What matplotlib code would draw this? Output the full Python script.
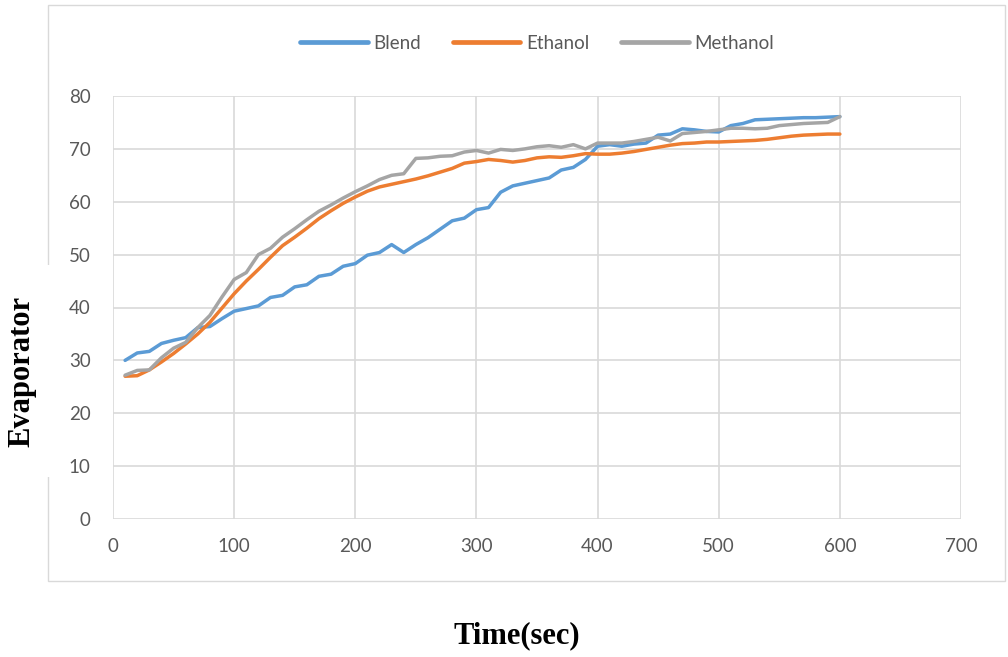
import matplotlib.pyplot as plt
from matplotlib.patches import Rectangle
import numpy as np

# time axis (sec)
time_sec = list(range(10, 601, 10))

blend = [30.0, 31.4, 31.7, 33.2, 33.8, 34.3, 36.2, 36.4, 37.9, 39.3,
         39.8, 40.3, 41.9, 42.3, 43.9, 44.3, 45.9, 46.3, 47.8, 48.3,
         49.9, 50.4, 51.9, 50.4, 51.9, 53.2, 54.8, 56.4, 56.9, 58.5,
         58.9, 61.8, 63.0, 63.5, 64.0, 64.5, 66.0, 66.5, 68.0, 70.5,
         70.8, 70.5, 70.9, 71.1, 72.6, 72.8, 73.8, 73.6, 73.3, 73.2,
         74.4, 74.8, 75.5, 75.6, 75.7, 75.8, 75.9, 75.9, 76.0, 76.1]

ethanol = [27.0, 27.1, 28.2, 29.7, 31.3, 33.1, 35.0, 37.2, 39.9, 42.6,
           45.0, 47.2, 49.5, 51.7, 53.3, 55.0, 56.8, 58.3, 59.7, 60.9,
           62.0, 62.8, 63.3, 63.8, 64.3, 64.9, 65.6, 66.3, 67.3, 67.6,
           68.0, 67.8, 67.5, 67.8, 68.3, 68.5, 68.4, 68.7, 69.1, 69.0,
           69.0, 69.2, 69.5, 69.9, 70.3, 70.7, 71.0, 71.1, 71.3, 71.3,
           71.4, 71.5, 71.6, 71.8, 72.1, 72.4, 72.6, 72.7, 72.8, 72.8]

methanol = [27.2, 28.1, 28.2, 30.5, 32.3, 33.4, 36.2, 38.5, 42.0, 45.3,
            46.6, 50.0, 51.2, 53.3, 54.9, 56.6, 58.2, 59.4, 60.7, 61.9,
            63.0, 64.2, 65.0, 65.3, 68.2, 68.3, 68.6, 68.7, 69.4, 69.7,
            69.2, 69.9, 69.7, 70.0, 70.4, 70.6, 70.3, 70.8, 70.0, 71.1,
            71.1, 71.1, 71.4, 71.8, 72.2, 71.5, 72.9, 73.1, 73.3, 73.6,
            73.9, 73.9, 73.8, 73.9, 74.4, 74.6, 74.8, 74.9, 75.0, 76.1]

series = [('Blend', blend, '#5b9bd5'),
          ('Ethanol', ethanol, '#ed7d31'),
          ('Methanol', methanol, '#a5a5a5')]

tick_font = {'family': 'Lato', 'size': 13.5, 'color': '#595959'}
title_font = {'family': 'Liberation Serif', 'size': 22, 'weight': 'bold', 'color': 'black'}
grid_col = '#d9d9d9'

fig = plt.figure(figsize=(10.08, 6.57), dpi=100)

# chart area frame
fig.patches.append(Rectangle((48/1008, 1-581/657), (1005-48)/1008, (581-5)/657,
                             transform=fig.transFigure, fill=False,
                             edgecolor=grid_col, linewidth=1.0, zorder=0))

ax = fig.add_axes([113/1008, 1-519/657, (961-113)/1008, (519-96)/657])

for name, vals, col in series:
    ax.plot(time_sec, vals, color=col, linewidth=2.5, label=name,
            solid_joinstyle='round', solid_capstyle='round', zorder=3)

ax.set_xlim(0, 700)
ax.set_ylim(0, 80)
ax.set_xticks(np.arange(0, 701, 100))
ax.set_yticks(np.arange(0, 81, 10))
ax.grid(True, color=grid_col, linewidth=1.2)
ax.set_axisbelow(True)
for s in ax.spines.values():
    s.set_visible(False)
ax.tick_params(length=0)
ax.tick_params(axis='x', pad=14)
ax.tick_params(axis='y', pad=16)
for lab in ax.get_xticklabels() + ax.get_yticklabels():
    lab.set_fontfamily(tick_font['family'])
    lab.set_fontsize(tick_font['size'])
    lab.set_color(tick_font['color'])

leg = ax.legend(loc='center', bbox_to_anchor=(0.5, 1.125), ncol=3, frameon=False,
                handlelength=3.6, columnspacing=1.7, handletextpad=0.3,
                prop={'family': 'Lato', 'size': 13.5})
for t in leg.get_texts():
    t.set_color('#595959')
for h in leg.legend_handles:
    h.set_linewidth(3.4)

fig.text(517/1008, 1-636/657, 'Time(sec)', ha='center', va='center', **title_font)
fig.text(22/1008, 1-371/657, 'Evaporator', ha='center', va='center', rotation=90,
         bbox=dict(facecolor='white', edgecolor='none', pad=22), **title_font)

plt.savefig('out.png', dpi=100)
